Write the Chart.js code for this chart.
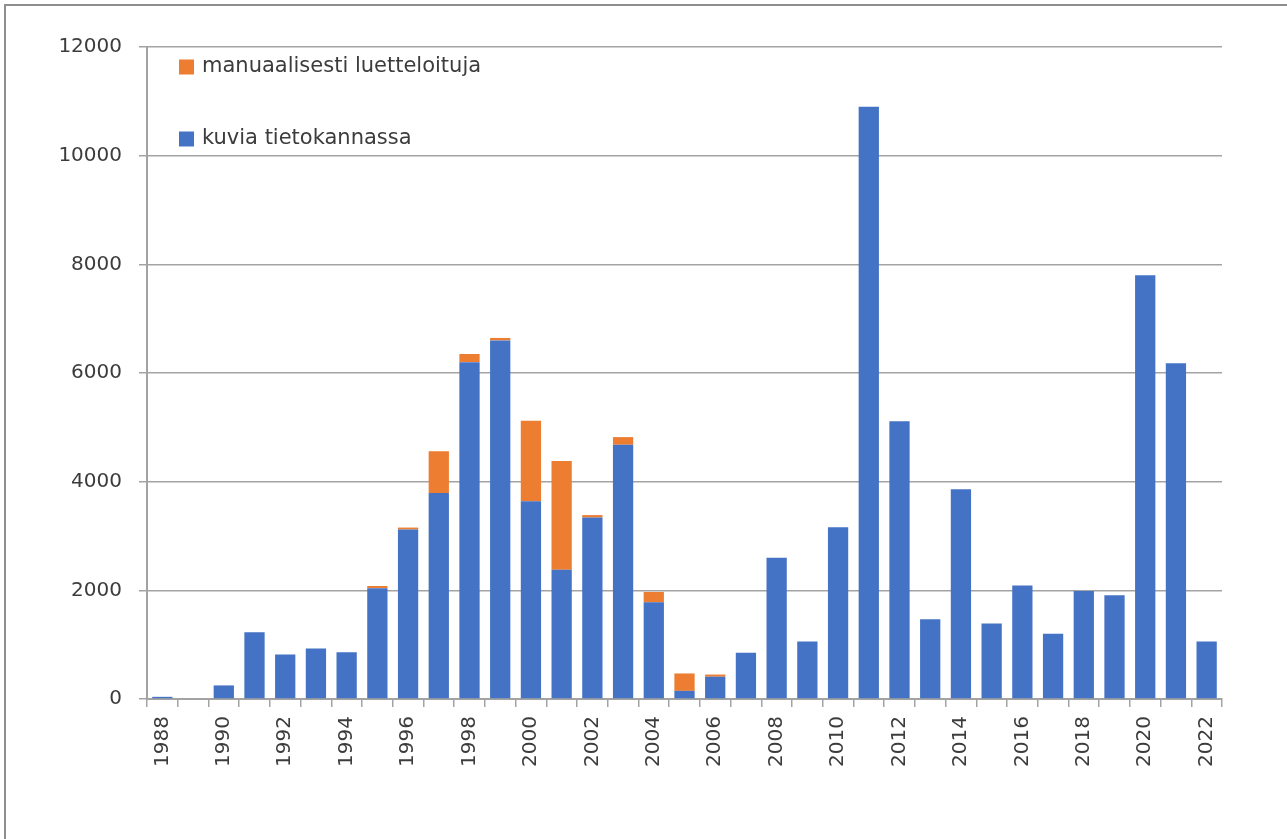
<!DOCTYPE html>
<html lang="fi">
<head>
<meta charset="utf-8">
<title>Kuvia tietokannassa vuosittain</title>
<script src="https://cdn.jsdelivr.net/npm/chart.js@4.4.1/dist/chart.umd.min.js"></script>
<style>
  html, body { margin: 0; padding: 0; background: #ffffff; }
  canvas { display: block; }
</style>
</head>
<body>
<canvas id="chart" width="1287" height="839"></canvas>
<script>
// Vuodet 1988–2022
const years = [
  '1988', '1989', '1990', '1991', '1992', '1993', '1994', '1995', '1996', '1997',
  '1998', '1999', '2000', '2001', '2002', '2003', '2004', '2005', '2006', '2007',
  '2008', '2009', '2010', '2011', '2012', '2013', '2014', '2015', '2016', '2017',
  '2018', '2019', '2020', '2021', '2022'
];

// Kuvia tietokannassa (alempi osa pinosta)
const kuviaTietokannassa = [
  40, 0, 250, 1230, 820, 930, 860, 2040, 3120, 3790,
  6200, 6600, 3640, 2380, 3340, 4680, 1780, 150, 410, 850,
  2600, 1060, 3160, 10900, 5110, 1470, 3860, 1390, 2090, 1200,
  1990, 1910, 7800, 6180, 1060
];

// Manuaalisesti luetteloituja (ylempi osa pinosta)
const manuaalisestiLuetteloituja = [
  0, 0, 0, 0, 0, 0, 0, 40, 35, 770,
  150, 45, 1480, 2000, 45, 140, 190, 320, 40, 0,
  0, 0, 0, 0, 0, 0, 0, 0, 0, 0,
  0, 0, 0, 0, 0
];

const seriesLabels = ['kuvia tietokannassa', 'manuaalisesti luetteloituja'];
const seriesColors = ['#4472C4', '#ED7D31'];

const FONT = "'DejaVu Sans', Verdana, sans-serif";
const TEXT_COLOR = '#3c3c3c';
const LINE_COLOR = '#a3a3a3';

// Valkoinen tausta ja kehyksen vasen ja yläreuna
const framePlugin = {
  id: 'frame',
  beforeDraw(chart) {
    const ctx = chart.ctx;
    ctx.save();
    ctx.fillStyle = '#ffffff';
    ctx.fillRect(0, 0, chart.width, chart.height);
    ctx.strokeStyle = '#8e8e8e';
    ctx.lineWidth = 2;
    ctx.beginPath();
    ctx.moveTo(5, chart.height);
    ctx.lineTo(5, 5);
    ctx.lineTo(chart.width, 5);
    ctx.stroke();
    ctx.restore();
  }
};

// Selite kuva-alueen vasemmassa yläkulmassa, ylin sarja ensin
const insideLegend = {
  id: 'insideLegend',
  afterDraw(chart) {
    const ctx = chart.ctx;
    const area = chart.chartArea;
    const order = [1, 0];
    const boxX = area.left + 32;
    const textX = area.left + 55;
    const firstY = area.top + 20;
    const rowGap = 72;
    const box = 15;
    ctx.save();
    ctx.font = '21px ' + FONT;
    ctx.textBaseline = 'middle';
    ctx.textAlign = 'left';
    order.forEach((di, row) => {
      const ds = chart.data.datasets[di];
      const cy = firstY + row * rowGap;
      ctx.fillStyle = ds.backgroundColor;
      ctx.fillRect(boxX, cy - box / 2, box, box);
      ctx.fillStyle = TEXT_COLOR;
      ctx.fillText(ds.label, textX, cy);
    });
    ctx.restore();
  }
};

new Chart(document.getElementById('chart'), {
  type: 'bar',
  data: {
    labels: years,
    datasets: [
      {
        label: seriesLabels[0],
        data: kuviaTietokannassa,
        backgroundColor: seriesColors[0],
        borderWidth: 0,
        barPercentage: 0.66,
        categoryPercentage: 1.0
      },
      {
        label: seriesLabels[1],
        data: manuaalisestiLuetteloituja,
        backgroundColor: seriesColors[1],
        borderWidth: 0,
        barPercentage: 0.66,
        categoryPercentage: 1.0
      }
    ]
  },
  options: {
    responsive: false,
    animation: false,
    devicePixelRatio: 1,
    layout: { padding: { top: 47, right: 65, left: 0, bottom: 0 } },
    plugins: {
      legend: { display: false },
      tooltip: { enabled: false }
    },
    scales: {
      x: {
        stacked: true,
        offset: true,
        grid: {
          offset: true,
          drawOnChartArea: false,
          drawTicks: true,
          tickLength: 8,
          color: LINE_COLOR,
          lineWidth: 1.5
        },
        border: { display: true, color: LINE_COLOR, width: 2 },
        ticks: {
          autoSkip: false,
          minRotation: 90,
          maxRotation: 90,
          padding: 9,
          color: TEXT_COLOR,
          font: { family: FONT, size: 20 },
          callback: (value, index) => (index % 2 === 0 ? years[index] : '')
        },
        afterFit(scale) { scale.height = 140; }
      },
      y: {
        stacked: true,
        min: 0,
        max: 12000,
        grid: {
          color: LINE_COLOR,
          lineWidth: 1.5,
          tickLength: 8
        },
        border: { display: true, color: LINE_COLOR, width: 2 },
        ticks: {
          stepSize: 2000,
          padding: 17,
          color: TEXT_COLOR,
          font: { family: FONT, size: 20 },
          callback: (value) => String(value)
        },
        afterFit(scale) { scale.width = 147; }
      }
    }
  },
  plugins: [framePlugin, insideLegend]
});
</script>
</body>
</html>
